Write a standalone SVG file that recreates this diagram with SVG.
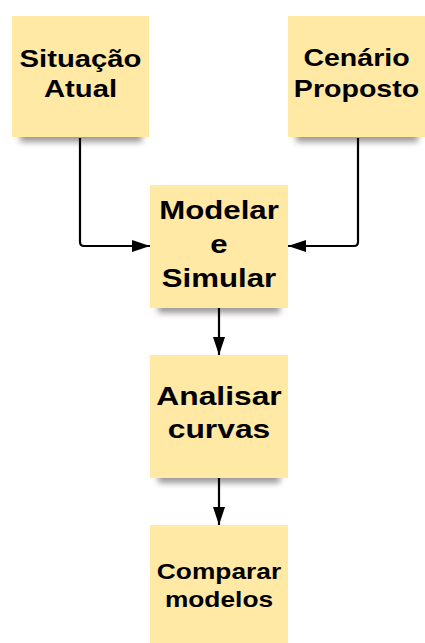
<svg xmlns="http://www.w3.org/2000/svg" width="425" height="643" viewBox="0 0 425 643">
  <defs>
    <filter id="soft" x="-20%" y="-50%" width="140%" height="200%">
      <feGaussianBlur stdDeviation="3"/>
    </filter>
    <marker id="arrow" viewBox="0 0 18 12" refX="18" refY="6" markerWidth="18" markerHeight="12" markerUnits="userSpaceOnUse" orient="auto">
      <path d="M0,0 L18,6 L0,12 z" fill="#000"/>
    </marker>
    <style>
      .note { fill: #ffe9a5; }
      .shadow { fill: #000; opacity: 0.4; filter: url(#soft); }
      .label { font-family: "Liberation Sans", Arial, sans-serif; font-weight: bold; fill: #000; text-anchor: middle; }
      .edge { fill: none; stroke: #000; stroke-width: 2.2; marker-end: url(#arrow); }
    </style>
  </defs>

  <!-- connectors -->
  <g id="connectors">
    <path class="edge" d="M80,138 V242 Q80,246 84,246 H150"/>
    <path class="edge" d="M358,138 V242 Q358,246 354,246 H288"/>
    <path class="edge" d="M219,308 V355"/>
    <path class="edge" d="M219,478 V525"/>
  </g>

  <!-- labels are drawn in a horizontally widened bold face -->
  <g id="situacao-atual">
    <rect class="shadow" x="20" y="128" width="122" height="14"/>
    <rect class="note" x="12" y="16" width="137" height="121"/>
    <g transform="translate(80.5,0) scale(1.22,1)">
      <text class="label" x="0" y="67" font-size="24">Situação</text>
      <text class="label" x="0" y="97" font-size="24">Atual</text>
    </g>
  </g>

  <g id="cenario-proposto">
    <rect class="shadow" x="296" y="128" width="122" height="14"/>
    <rect class="note" x="288" y="16" width="137" height="121"/>
    <g transform="translate(356.5,0) scale(1.19,1)">
      <text class="label" x="0" y="66" font-size="24">Cenário</text>
      <text class="label" x="0" y="97" font-size="24">Proposto</text>
    </g>
  </g>

  <g id="modelar-simular">
    <rect class="shadow" x="158" y="299" width="122" height="14"/>
    <rect class="note" x="150" y="185" width="138" height="123"/>
    <g transform="translate(219,0) scale(1.2,1)">
      <text class="label" x="0" y="219" font-size="26">Modelar</text>
      <text class="label" x="0" y="253" font-size="26">e</text>
      <text class="label" x="0" y="287" font-size="26">Simular</text>
    </g>
  </g>

  <g id="analisar-curvas">
    <rect class="shadow" x="158" y="469" width="122" height="14"/>
    <rect class="note" x="150" y="355" width="138" height="123"/>
    <g transform="translate(219,0) scale(1.2,1)">
      <text class="label" x="0" y="405" font-size="26.5">Analisar</text>
      <text class="label" x="0" y="438" font-size="26.5">curvas</text>
    </g>
  </g>

  <g id="comparar-modelos">
    <rect class="note" x="150" y="525" width="138" height="118"/>
    <g transform="translate(219,0) scale(1.17,1)">
      <text class="label" x="0" y="579" font-size="22.5">Comparar</text>
      <text class="label" x="0" y="607" font-size="22.5">modelos</text>
    </g>
  </g>
</svg>
